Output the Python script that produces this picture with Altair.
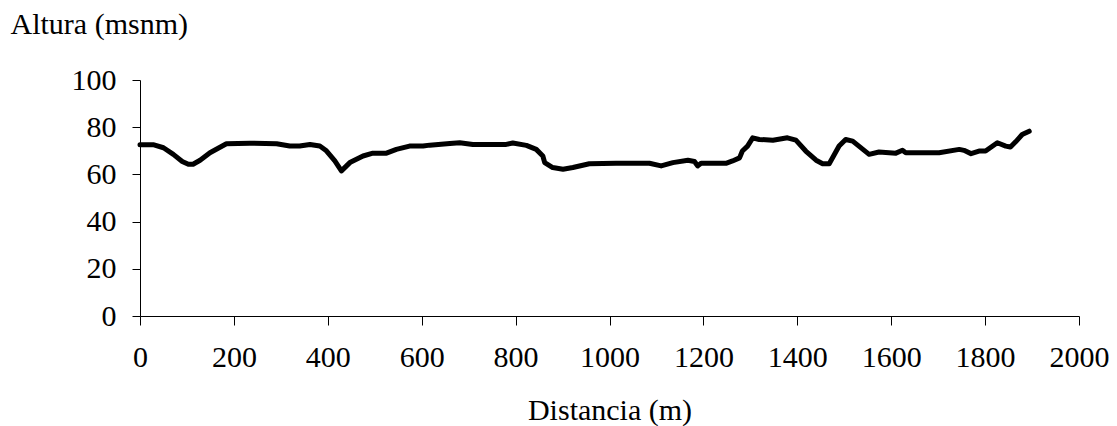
import altair as alt
import pandas as pd

distancia = [0, 28, 50, 71, 90, 103, 113, 128, 149, 184, 234, 291, 319, 340, 362, 383, 397,
             415, 429, 447, 475, 496, 525, 546, 574, 603, 617, 660, 681, 709, 780, 794, 823,
             844, 858, 862, 879, 901, 922, 957, 1014, 1085, 1110, 1135, 1167, 1181, 1188,
             1195, 1248, 1262, 1277, 1283, 1294, 1305, 1319, 1348, 1379, 1397, 1418, 1440,
             1454, 1468, 1489, 1503, 1518, 1553, 1574, 1610, 1624, 1631, 1702, 1745, 1755,
             1770, 1787, 1801, 1826, 1844, 1854, 1865, 1879, 1894]
altura = [72.6, 72.6, 71.3, 68.5, 65.5, 64.3, 64.3, 66.0, 69.2, 73.0, 73.2, 73.0, 72.0, 72.0,
          72.7, 72.0, 70.0, 65.7, 61.5, 65.0, 67.8, 69.0, 69.0, 70.6, 72.0, 72.0, 72.4, 73.1,
          73.4, 72.7, 72.7, 73.3, 72.3, 70.6, 67.8, 65.0, 62.9, 62.2, 62.9, 64.5, 64.7, 64.7,
          63.6, 65.0, 66.0, 65.5, 63.6, 64.7, 64.7, 65.7, 67.0, 69.9, 72.0, 75.5, 74.8, 74.5,
          75.5, 74.5, 69.9, 66.0, 64.5, 64.5, 72.0, 74.8, 74.1, 68.5, 69.5, 69.0, 70.2, 69.2,
          69.2, 70.6, 70.2, 68.8, 69.9, 69.9, 73.4, 72.0, 71.6, 73.8, 76.9, 78.3]

df = pd.DataFrame({"d": distancia, "h": altura})

FONT = "Liberation Serif"
FS = 30

chart = alt.Chart(df).mark_line(color="black", strokeWidth=5, strokeJoin="round",
                                strokeCap="round").encode(
    x=alt.X("d:Q", scale=alt.Scale(domain=[0, 2000], nice=False),
            axis=alt.Axis(values=list(range(0, 2001, 200)), title="Distancia (m)",
                          format="d", labelOverlap=False, labelFlush=False,
                          grid=False, tickSize=9, labelPadding=17,
                          titleY=103, titleBaseline="alphabetic")),
    y=alt.Y("h:Q", scale=alt.Scale(domain=[0, 100], nice=False),
            axis=alt.Axis(values=list(range(0, 101, 20)), title="Altura (msnm)",
                          format="d", labelOverlap=False, labelFlush=False,
                          grid=False, tickSize=8, labelPadding=16,
                          titleAngle=0, titleAlign="left", titleBaseline="alphabetic",
                          titleX=-130, titleY=-47)),
).properties(
    width=939, height=236,
    autosize=alt.AutoSizeParams(type="none"),
    padding={"left": 132, "top": 72, "right": 30, "bottom": 110},
).configure_axis(
    labelFont=FONT, titleFont=FONT, labelFontSize=FS, titleFontSize=FS,
    labelColor="black", titleColor="black", titleFontWeight="normal",
    domainColor="black", tickColor="black", domainWidth=1, tickWidth=1,
).configure_view(stroke=None)

chart.save("out.html", embed_options={"renderer": "svg", "actions": False})
